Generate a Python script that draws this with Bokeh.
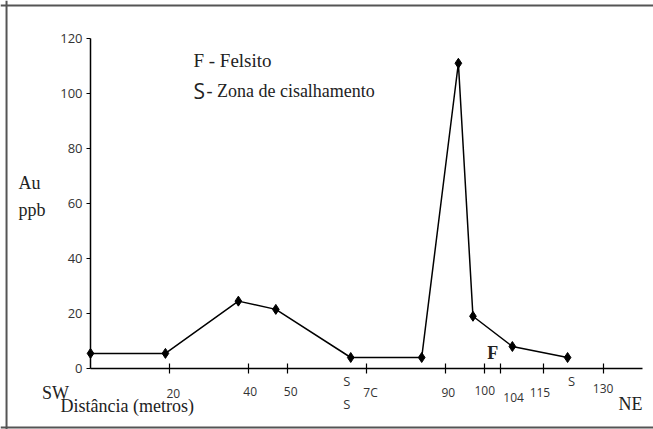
from bokeh.plotting import figure
from bokeh.models import Range1d, Label, FixedTicker, LinearAxis, Span
from bokeh.embed import file_html
from bokeh.resources import INLINE

# ---- data ----
distance = [0, 19, 37.5, 47, 66, 84, 93.3, 97, 107, 121]
au_ppb = [5.5, 5.5, 24.5, 21.5, 4, 4, 111, 19, 8, 4]

x_ticks = [20, 40, 50, 70, 90, 100, 104, 115, 130]
x_tick_labels = ["20", "40", "50", "7C", "90", "100", "104", "115", "130"]
y_ticks = [0, 20, 40, 60, 80, 100, 120]

shear_marks_x = [65, 65, 122]
felsite_mark = (102, 5.8)

# label styling (pixel offsets of each x tick label)
tick_label_dx = [4, 2, 3, 4, 3, 0, 13, -4, 0]
tick_label_dy = [-25, -23, -23, -24, -24, -22, -29, -24, -20]
shear_dy = [-12, -35, -12]

SERIF = "Liberation Serif"
SANS = "Open Sans"
INK = "#222222"
BORDER = "#555555"

p = figure(width=653, height=429, output_backend="svg", toolbar_location=None,
           x_range=Range1d(-22.83, 142.79), y_range=Range1d(-22.18, 133.82),
           x_axis_location=None, y_axis_location=None,
           min_border=0)
p.outline_line_color = None
p.xgrid.visible = False
p.ygrid.visible = False
p.background_fill_color = "white"
p.border_fill_color = "white"

yaxis = LinearAxis(fixed_location=0, bounds=(0, 120), ticker=FixedTicker(ticks=y_ticks))
yaxis.major_tick_in = 0
yaxis.major_tick_out = 4
yaxis.minor_tick_line_color = None
yaxis.major_label_text_font = SANS
yaxis.major_label_text_font_size = "13px"
yaxis.major_label_text_color = "#333333"
yaxis.major_label_standoff = 4
yaxis.axis_line_width = 1.5
yaxis.major_tick_line_width = 1.2
p.add_layout(yaxis, "left")

xaxis = LinearAxis(fixed_location=0, bounds=(0, 140), ticker=FixedTicker(ticks=x_ticks))
xaxis.major_tick_in = 5
xaxis.major_tick_out = 5
xaxis.minor_tick_line_color = None
xaxis.major_label_overrides = {v: "" for v in x_ticks}
xaxis.axis_line_width = 1.5
xaxis.major_tick_line_width = 1.2
p.add_layout(xaxis, "below")

# page frame (left, top, bottom edges)
p.add_layout(Span(location=-21.3, dimension="height", line_color=BORDER, line_width=2))
p.add_layout(Span(location=132.0, dimension="width", line_color=BORDER, line_width=2))
p.add_layout(Span(location=-21.45, dimension="width", line_color=BORDER, line_width=2))

p.line(distance, au_ppb, line_color="black", line_width=1.5)
p.scatter(distance, au_ppb, marker="diamond", size=10, color="black")

for v, t, dx, dy in zip(x_ticks, x_tick_labels, tick_label_dx, tick_label_dy):
    p.add_layout(Label(x=v, y=0, x_offset=dx, y_offset=dy, text=t,
                       text_align="center", text_baseline="middle",
                       text_font=SANS, text_font_size="12px", text_color="#333333"))

for sx, dy in zip(shear_marks_x, shear_dy):
    p.add_layout(Label(x=sx, y=0, y_offset=dy, text="S", text_align="center",
                       text_baseline="middle", text_font=SANS, text_font_size="13px",
                       text_color="#333333"))

p.add_layout(Label(x=felsite_mark[0], y=felsite_mark[1], text="F", text_align="center",
                   text_baseline="middle", text_font=SERIF, text_font_size="18px",
                   text_font_style="bold", text_color=INK))

# axis titles
p.add_layout(Label(x=0, y=0, x_offset=-35, y_offset=-24, text="SW", text_align="center",
                   text_baseline="middle", text_font=SERIF, text_font_size="18px", text_color=INK))
p.add_layout(Label(x=0, y=0, x_offset=-30, y_offset=-37, text="Distância (metros)",
                   text_align="left", text_baseline="middle", text_font=SERIF,
                   text_font_size="18px", text_color=INK))
p.add_layout(Label(x=140, y=0, x_offset=-12, y_offset=-35, text="NE", text_align="center",
                   text_baseline="middle", text_font=SERIF, text_font_size="18px", text_color=INK))
p.add_layout(Label(x=0, y=67.3, x_offset=-72, text="Au", text_align="left",
                   text_baseline="middle", text_font=SERIF, text_font_size="18px", text_color=INK))
p.add_layout(Label(x=0, y=57.5, x_offset=-72, text="ppb", text_align="left",
                   text_baseline="middle", text_font=SERIF, text_font_size="18px", text_color=INK))

# legend text
p.add_layout(Label(x=26.1, y=112, text="F - Felsito", text_align="left",
                   text_baseline="middle", text_font=SERIF, text_font_size="19px", text_color=INK))
p.add_layout(Label(x=26.1, y=101, text="S", text_align="left",
                   text_baseline="middle", text_font=SANS, text_font_size="21px", text_color=INK))
p.add_layout(Label(x=26.1, y=101, x_offset=13, text="- Zona de cisalhamento", text_align="left",
                   text_baseline="middle", text_font=SERIF, text_font_size="18px", text_color=INK))

open("out.html", "w").write(file_html(p, INLINE))
